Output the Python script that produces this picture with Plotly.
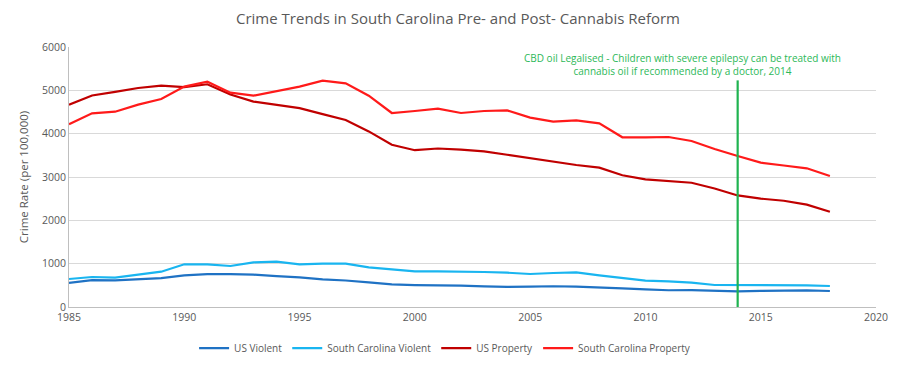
import plotly.graph_objects as go

years = list(range(1985, 2019))
us_violent = [556.6, 620.1, 612.5, 640.6, 666.9, 729.6, 758.2, 757.7, 747.1, 713.6,
              684.5, 636.6, 611.0, 567.6, 523.0, 506.5, 504.5, 494.4, 475.8, 463.2,
              469.0, 479.3, 471.8, 458.6, 431.9, 404.5, 387.1, 387.8, 369.1, 361.6,
              373.7, 386.3, 382.9, 368.9]
sc_violent = [646, 692, 677, 746, 815, 985, 985, 946, 1031, 1046,
              985, 1000, 1000, 915, 862, 823, 823, 823, 808, 792,
              761, 785, 800, 731, 669, 608, 592, 561, 508, 508,
              508, 508, 500, 485]
us_property = [4666.4, 4881.8, 4963.0, 5054.0, 5107.1, 5073.1, 5140.2, 4903.7, 4740.0, 4660.2,
               4590.5, 4451.0, 4316.3, 4052.5, 3743.6, 3618.3, 3658.1, 3630.6, 3591.2, 3514.1,
               3431.5, 3346.6, 3276.4, 3214.6, 3041.3, 2945.9, 2905.4, 2868.0, 2733.6, 2574.1,
               2500.5, 2451.6, 2362.2, 2199.5]
sc_property = [4216, 4470, 4507, 4670, 4800, 5085, 5200, 4946, 4877, 4985,
               5085, 5223, 5162, 4877, 4477, 4523, 4577, 4477, 4523, 4538,
               4370, 4277, 4308, 4239, 3916, 3916, 3923, 3831, 3646, 3485,
               3331, 3265, 3200, 3023]

series = [
    ("US Violent", us_violent, "#1f72c4"),
    ("South Carolina Violent", sc_violent, "#19b5f0"),
    ("US Property", us_property, "#c00000"),
    ("South Carolina Property", sc_property, "#ff1a1a"),
]

event_year = 2014
event_top = 5230
event_text = ("CBD oil Legalised - Children with severe epilepsy can be treated with<br>"
              "cannabis oil if recommended by a doctor, 2014")

font_family = "Open Sans, Liberation Sans, sans-serif"
grey = "#595959"

fig = go.Figure()
for name, vals, col in series:
    fig.add_trace(go.Scatter(x=years, y=vals, mode="lines", name=name,
                             line=dict(color=col, width=2.2)))

fig.add_shape(type="line", x0=event_year, x1=event_year, y0=0, y1=event_top,
              xref="x", yref="y", line=dict(color="#1fb350", width=2.2))

fig.add_annotation(x=2011.6, y=5600, xref="x", yref="y", text=event_text,
                   showarrow=False, font=dict(family=font_family, size=10, color="#2db858"),
                   align="center")

fig.update_layout(
    width=900, height=366,
    margin=dict(l=61, r=32, t=39, b=67, autoexpand=False),
    paper_bgcolor="white", plot_bgcolor="white",
    font=dict(family=font_family, color=grey, size=11),
    title=dict(text="Crime Trends in South Carolina Pre- and Post- Cannabis Reform",
               x=0.5, xanchor="center", y=0.972, yanchor="middle",
               font=dict(size=15, color=grey, family=font_family)),
    xaxis=dict(range=[1985, 2020], dtick=5, tick0=1985, showgrid=False, automargin=False,
               showline=True, linecolor="#bfbfbf", linewidth=1, ticks="",
               tickfont=dict(size=10.5, color=grey), zeroline=False),
    yaxis=dict(range=[0, 6000], dtick=1000, showgrid=True, gridcolor="#d9d9d9", automargin=False,
               showline=True, linecolor="#bfbfbf", linewidth=1, zeroline=False,
               tickfont=dict(size=10.5, color=grey),
               title=dict(text="Crime Rate (per 100,000)", font=dict(size=11.5, color=grey), standoff=10)),
    legend=dict(orientation="h", x=0.155, xanchor="left", y=-0.158, yanchor="middle",
                font=dict(size=10, color=grey), itemwidth=30, tracegroupgap=0),
    showlegend=True,
)

fig.write_html("out.html")
